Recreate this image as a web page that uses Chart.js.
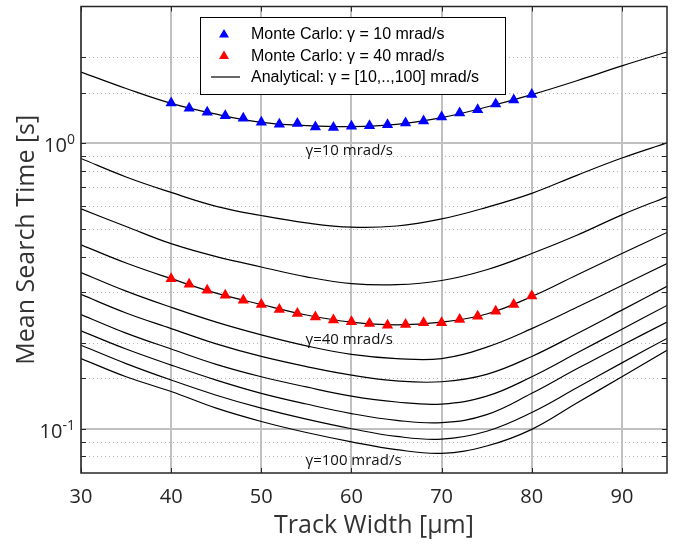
<!DOCTYPE html>
<html>
<head>
<meta charset="utf-8">
<script src="https://cdn.jsdelivr.net/npm/chart.js@4.4.1/dist/chart.umd.min.js"></script>
<style>
  html, body { margin: 0; padding: 0; background: #fff; }
</style>
</head>
<body>
<canvas id="c" width="680" height="545"></canvas>
<script>
// track width samples for the analytical curves
const trackWidth = [30, 35, 40, 45, 50, 55, 60, 65, 70, 75, 80, 85, 90, 95];

// analytical mean search time [s], one array per gamma (mrad/s)
const tGamma10  = [1.77, 1.55, 1.375, 1.26, 1.18, 1.15, 1.14, 1.16, 1.225, 1.335, 1.475, 1.65, 1.86, 2.08];
const tGamma20  = [0.882, 0.76, 0.671, 0.60, 0.557, 0.525, 0.507, 0.512, 0.542, 0.595, 0.666, 0.77, 0.885, 1.0];
const tGamma30  = [0.5875, 0.51, 0.444, 0.40, 0.368, 0.34, 0.322, 0.319, 0.33, 0.36, 0.41, 0.475, 0.56, 0.648];
const tGamma40  = [0.44, 0.38, 0.335, 0.298, 0.272, 0.25, 0.236, 0.231, 0.236, 0.252, 0.29, 0.345, 0.41, 0.486];
const tGamma50  = [0.352, 0.303, 0.266, 0.236, 0.213, 0.195, 0.182, 0.176, 0.176, 0.193, 0.224, 0.266, 0.317, 0.378];
const tGamma60  = [0.295, 0.254, 0.224, 0.198, 0.179, 0.165, 0.154, 0.147, 0.146, 0.155, 0.179, 0.215, 0.26, 0.315];
const tGamma70  = [0.251, 0.216, 0.19, 0.168, 0.152, 0.14, 0.13, 0.124, 0.122, 0.13, 0.152, 0.184, 0.223, 0.27];
const tGamma80  = [0.22, 0.19, 0.167, 0.148, 0.133, 0.122, 0.113, 0.107, 0.105, 0.112, 0.133, 0.162, 0.196, 0.236];
const tGamma90  = [0.196, 0.169, 0.148, 0.131, 0.118, 0.108, 0.10, 0.094, 0.092, 0.098, 0.114, 0.139, 0.17, 0.207];
const tGamma100 = [0.176, 0.152, 0.135, 0.118, 0.106, 0.097, 0.09, 0.0845, 0.082, 0.087, 0.0995, 0.123, 0.152, 0.188];
const gammas = [10, 20, 30, 40, 50, 60, 70, 80, 90, 100];
const analytical = [tGamma10, tGamma20, tGamma30, tGamma40, tGamma50, tGamma60, tGamma70, tGamma80, tGamma90, tGamma100];

// monte carlo runs
const mcWidth = [40, 42, 44, 46, 48, 50, 52, 54, 56, 58, 60, 62, 64, 66, 68, 70, 72, 74, 76, 78, 80];
const mcGamma10 = [1.378, 1.321, 1.279, 1.245, 1.219, 1.181, 1.162, 1.168, 1.137, 1.131, 1.143, 1.149, 1.158, 1.174, 1.193, 1.232, 1.272, 1.306, 1.367, 1.412, 1.478];
const mcGamma40 = [0.335, 0.320, 0.305, 0.293, 0.2815, 0.272, 0.2613, 0.253, 0.246, 0.240, 0.2365, 0.2335, 0.2303, 0.2316, 0.2347, 0.2347, 0.241, 0.2475, 0.2577, 0.272, 0.2914];

// ticks
const xTicks = [30, 40, 50, 60, 70, 80, 90];
const yMajor = [1, 0.1];
const yMajorLabel = ['0', '-1'];

const pts = (xs, ys) => xs.map((x, i) => ({ x: x, y: ys[i] }));
const isMajor = v => Math.abs(Math.log10(v) - Math.round(Math.log10(v))) < 1e-6;

const datasets = [
  {
    label: 'Monte Carlo: \u03b3 = 10 mrad/s',
    data: pts(mcWidth, mcGamma10),
    showLine: false,
    pointStyle: 'triangle',
    pointRadius: 6.5,
    pointBackgroundColor: '#0000ff',
    pointBorderWidth: 0,
    borderColor: '#0000ff',
  },
  {
    label: 'Monte Carlo: \u03b3 = 40 mrad/s',
    data: pts(mcWidth, mcGamma40),
    showLine: false,
    pointStyle: 'triangle',
    pointRadius: 6.5,
    pointBackgroundColor: '#ff0000',
    pointBorderWidth: 0,
    borderColor: '#ff0000',
  },
];
analytical.forEach((arr, k) => {
  datasets.push({
    label: k === 0 ? 'Analytical: \u03b3 = [10,..,100] mrad/s' : '\u03b3 = ' + gammas[k] + ' mrad/s',
    data: pts(trackWidth, arr),
    borderColor: '#000',
    borderWidth: 1.2,
    pointRadius: 0,
    tension: 0.4,
    fill: false,
  });
});

const frame = {
  id: 'frame',
  beforeDatasetsDraw(chart) {
    const { ctx, chartArea: a, scales: { y } } = chart;
    ctx.save();
    ctx.strokeStyle = '#b5b5b5';
    ctx.lineWidth = 1;
    ctx.setLineDash([1, 3]);
    y.ticks.forEach(t => {
      if (isMajor(t.value)) return;
      const py = Math.round(y.getPixelForValue(t.value)) + 0.5;
      if (py <= a.top + 2 || py >= a.bottom - 2) return;
      ctx.beginPath();
      ctx.moveTo(a.left, py);
      ctx.lineTo(a.right, py);
      ctx.stroke();
    });
    ctx.restore();
  },
  afterDraw(chart) {
    const { ctx, chartArea: a, scales: { x, y } } = chart;
    ctx.save();
    // box
    ctx.strokeStyle = '#262626';
    ctx.lineWidth = 1.5;
    ctx.strokeRect(a.left, a.top, a.right - a.left, a.bottom - a.top);
    // inward ticks
    ctx.lineWidth = 1;
    ctx.beginPath();
    xTicks.forEach(v => {
      const px = Math.round(x.getPixelForValue(v)) + 0.5;
      ctx.moveTo(px, a.bottom); ctx.lineTo(px, a.bottom - 5);
      ctx.moveTo(px, a.top); ctx.lineTo(px, a.top + 5);
    });
    y.ticks.forEach(t => {
      const py = Math.round(y.getPixelForValue(t.value)) + 0.5;
      if (py <= a.top + 2 || py >= a.bottom - 2) return;
      ctx.moveTo(a.left, py); ctx.lineTo(a.left + 5, py);
      ctx.moveTo(a.right, py); ctx.lineTo(a.right - 5, py);
    });
    ctx.stroke();

    // y tick labels 10^n
    ctx.fillStyle = '#262626';
    yMajor.forEach((v, i) => {
      const py = y.getPixelForValue(v);
      const xr = a.left - 6;
      ctx.font = '14px "Open Sans"';
      const ew = ctx.measureText(yMajorLabel[i]).width;
      ctx.textAlign = 'left';
      ctx.textBaseline = 'alphabetic';
      ctx.fillText(yMajorLabel[i], xr - ew, py + 1);
      ctx.font = '20px "Open Sans"';
      ctx.textAlign = 'right';
      ctx.fillText('10', xr - ew, py + 9);
    });

    // curve labels
    ctx.fillStyle = '#111';
    ctx.font = '15px "Open Sans"';
    ctx.textAlign = 'left';
    ctx.textBaseline = 'middle';
    ctx.fillText('\u03b3=10 mrad/s', x.getPixelForValue(54.9), y.getPixelForValue(0.94));
    ctx.fillText('\u03b3=40 mrad/s', x.getPixelForValue(54.9), y.getPixelForValue(0.204));
    ctx.fillText('\u03b3=100 mrad/s', x.getPixelForValue(54.9), y.getPixelForValue(0.077));

    // legend
    const lx = 200, ly = 17, lw = 305, lh = 77;
    ctx.fillStyle = '#fff';
    ctx.fillRect(lx, ly, lw, lh);
    ctx.strokeStyle = '#000';
    ctx.lineWidth = 1;
    ctx.strokeRect(lx + 0.5, ly + 0.5, lw, lh);
    const rows = [
      { text: datasets[0].label, color: '#0000ff', tri: true },
      { text: datasets[1].label, color: '#ff0000', tri: true },
      { text: datasets[2].label, color: '#000', tri: false },
    ];
    ctx.font = '16px "Liberation Sans", Arial, sans-serif';
    ctx.textBaseline = 'middle';
    rows.forEach((r, i) => {
      const cy = ly + 17 + i * 21.5;
      if (r.tri) {
        ctx.fillStyle = r.color;
        ctx.beginPath();
        ctx.moveTo(224, cy - 5);
        ctx.lineTo(229, cy + 3.5);
        ctx.lineTo(219, cy + 3.5);
        ctx.closePath();
        ctx.fill();
      } else {
        ctx.strokeStyle = '#000';
        ctx.lineWidth = 1.2;
        ctx.beginPath();
        ctx.moveTo(211, cy);
        ctx.lineTo(240, cy);
        ctx.stroke();
      }
      ctx.fillStyle = '#000';
      ctx.fillText(r.text, 251, cy + 1);
    });
    ctx.restore();
  },
};

new Chart(document.getElementById('c'), {
  type: 'line',
  data: { datasets: datasets },
  options: {
    responsive: false,
    animation: false,
    events: [],
    layout: { padding: { top: 5, right: 13, left: 0, bottom: 0 } },
    plugins: {
      legend: { display: false },
      tooltip: { enabled: false },
    },
    scales: {
      x: {
        type: 'linear',
        min: 30,
        max: 95,
        afterFit: s => { s.height = 72; },
        ticks: {
          stepSize: 10,
          includeBounds: false,
          padding: 12,
          color: '#262626',
          font: { family: 'Open Sans', size: 20 },
        },
        grid: { color: '#c0c0c0', lineWidth: 2, drawTicks: false },
        border: { display: false },
        title: {
          display: true,
          text: 'Track Width [\u00b5m]',
          color: '#333',
          font: { family: 'Open Sans', size: 25 },
          padding: { top: 0, bottom: 4 },
        },
      },
      y: {
        type: 'logarithmic',
        min: 0.07,
        max: 3,
        afterFit: s => { s.width = 81; },
        ticks: { display: false },
        grid: {
          color: c => isMajor(c.tick.value) ? '#c0c0c0' : 'rgba(0,0,0,0)',
          lineWidth: 2,
          drawTicks: false,
        },
        border: { display: false },
        title: {
          display: true,
          text: 'Mean Search Time [s]',
          color: '#333',
          font: { family: 'Open Sans', size: 25 },
          padding: { top: 12, bottom: 0 },
        },
      },
    },
  },
  plugins: [frame],
});
</script>
</body>
</html>
